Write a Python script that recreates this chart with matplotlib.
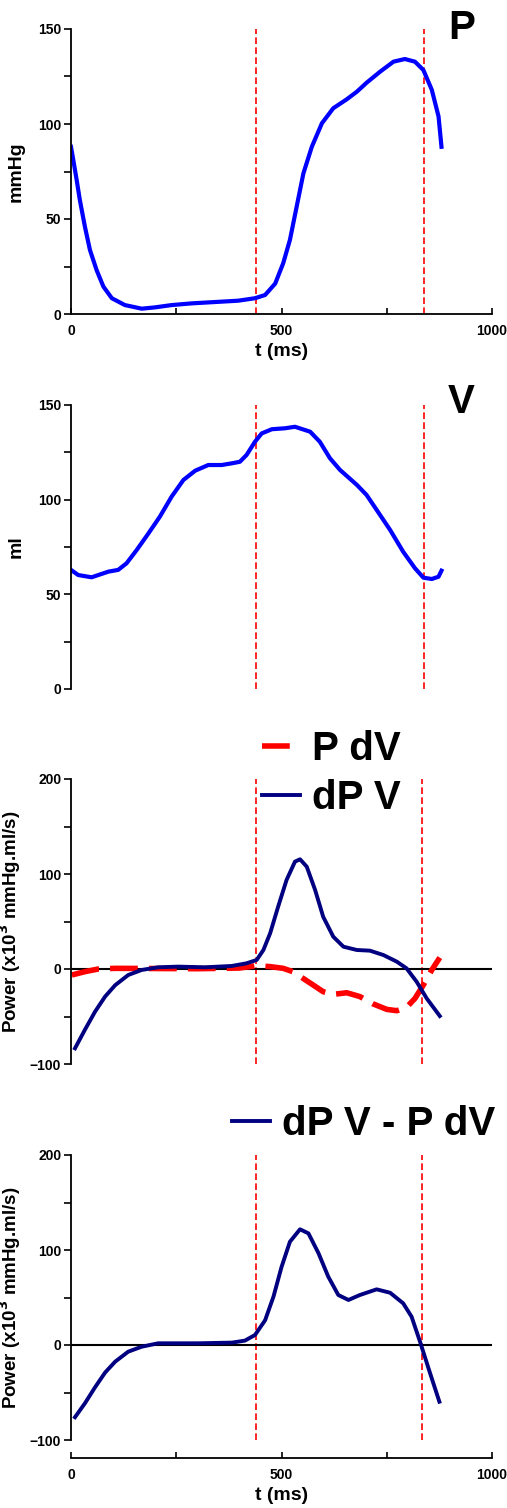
"""Pressure, volume and power traces over one cardiac cycle."""

import matplotlib

matplotlib.use("Agg")
from matplotlib import pyplot as plt
from matplotlib.ticker import MultipleLocator

plt.rcParams["font.family"] = ["Liberation Sans", "DejaVu Sans"]
plt.rcParams["font.weight"] = "bold"

# pressure (mmHg)
t_p = [0, 5.5, 13.5, 21, 33, 45, 61, 77, 97, 128, 168, 200, 239, 287, 342,
       397, 437, 461, 485, 504, 520, 536, 552, 572, 596, 623, 655, 679, 702,
       734, 766, 793, 817, 837, 857, 873, 880]
p = [88, 81, 70.5, 60, 46, 33.7, 23, 14.4, 8.3, 4.7, 2.8, 3.5, 4.7, 5.6, 6.3,
     7, 8.3, 10, 16, 26.7, 39, 56.5, 74, 88, 100.4, 108.3, 113, 117, 121.7,
     127.5, 132.8, 134.2, 132.8, 128.4, 118, 104, 88]

# volume (ml)
t_v = [0, 17, 49, 89, 112, 132, 156, 184, 211, 239, 267, 295, 326, 358, 382,
       401, 417, 437, 453, 477, 508, 532, 568, 591, 615, 639, 679, 702, 726,
       758, 789, 817, 837, 857, 873, 880]
v = [62.9, 60.2, 59, 62, 62.9, 66.4, 73.4, 82.2, 91, 101.6, 110.4, 115.3,
     118.3, 118.3, 119.2, 120, 123.6, 130.6, 135, 137.2, 137.7, 138.5, 135.9,
     130.6, 121.9, 115.7, 107.8, 102.5, 94.6, 84, 72.5, 63.8, 58.8, 58.1,
     59.3, 62.5]

# dP V (x10^3 mmHg.ml/s)
t_dpv = [9.5, 33, 57, 81, 105, 136, 168, 207, 255, 318, 382, 417, 441, 457,
         473, 492, 512, 532, 544, 560, 580, 599, 623, 647, 679, 710, 742, 774,
         797, 821, 845, 876]
dpv = [-83.5, -64, -45, -29, -17, -6.3, -1, 1.8, 2.5, 1.8, 3.2, 6, 9.5, 20,
       37.6, 65.6, 93.7, 113, 115.5, 107.7, 83, 55, 34, 23.5, 20, 19.3, 14.7,
       7.7, 0.7, -13.4, -31, -49.5]

# P dV (x10^3 mmHg.ml/s)
t_pdv = [2, 33, 65, 105, 200, 300, 400, 441, 473, 504, 527, 551, 575, 599,
         623, 655, 686, 718, 750, 774, 797, 817, 837, 857, 876]
pdv = [-6.3, -2.8, 0, 0.7, 0.5, 0.3, 1, 3.5, 2.5, 0.7, -2.8, -9.8, -16.8,
       -23.9, -26.7, -25, -29, -36.8, -42.5, -43.9, -40.4, -31, -16.8, -1, 12]

# dP V - P dV
t_diff = [9.5, 33, 57, 81, 105, 136, 168, 207, 302, 382, 413, 437, 461, 481,
          500, 520, 544, 564, 588, 611, 635, 659, 686, 726, 758, 789, 809,
          829, 853, 875]
diff = [-76, -61.4, -44.6, -29, -17.5, -7, -1.8, 1.8, 1.8, 2.5, 4.6, 10.5, 26,
        51, 82, 108.7, 121.8, 117.5, 96.5, 72, 52.6, 47.4, 52.6, 58.6, 55,
        43.9, 29.8, 3.5, -29.8, -59.7]

# valve event times (ms)
events_pv = [440, 838]
events_power = [440, 834]

W, H = 507, 1508
fig = plt.figure(figsize=(W / 100, H / 100), dpi=100)


def make_axes(top, bottom):
    left, right = 71, 492
    return fig.add_axes(
        [left / W, 1 - bottom / H, (right - left) / W, (bottom - top) / H]
    )


def style(ax, ylim, major, minor, show_x):
    ax.set_xlim(0, 1000)
    ax.set_ylim(*ylim)
    for side in ("top", "right"):
        ax.spines[side].set_visible(False)
    ax.spines["left"].set_linewidth(1.3)
    ax.spines["bottom"].set_linewidth(1.3)
    ax.yaxis.set_major_locator(MultipleLocator(major))
    ax.yaxis.set_minor_locator(MultipleLocator(minor))
    ax.tick_params(axis="y", which="both", direction="out", length=5,
                   width=1.2, labelsize=10, pad=2)
    if show_x:
        ax.xaxis.set_major_locator(MultipleLocator(500))
        ax.xaxis.set_minor_locator(MultipleLocator(250))
        ax.tick_params(axis="x", which="both", direction="in", length=4,
                       width=1.2, labelsize=10, pad=7)
    else:
        ax.spines["bottom"].set_visible(False)
        ax.tick_params(axis="x", which="both", bottom=False, labelbottom=False)
    for lab in ax.get_xticklabels() + ax.get_yticklabels():
        lab.set_fontweight("bold")


def events(ax, times):
    for t in times:
        ax.axvline(t, color="red", lw=1.2, ls=(0, (4, 2)), zorder=1)


# --- P ---
ax1 = make_axes(29, 314)
style(ax1, (0, 150), 50, 25, True)
events(ax1, events_pv)
ax1.plot(t_p, p, color="#0000ff", lw=3, solid_joinstyle="round")
ax1.set_ylabel("mmHg", fontsize=14, fontweight="bold")
ax1.yaxis.set_label_coords(-0.11, 0.5)
ax1.set_xlabel("t (ms)", fontsize=14, fontweight="bold")
ax1.xaxis.set_label_coords(0.5, -0.10)
fig.text(448 / W, 1 - 39 / H, "P", fontsize=29, fontweight="bold",
         ha="left", va="baseline")

# --- V ---
ax2 = make_axes(405, 689)
style(ax2, (0, 150), 50, 25, False)
events(ax2, events_pv)
ax2.plot(t_v, v, color="#0000ff", lw=3, solid_joinstyle="round")
ax2.set_ylabel("ml", fontsize=14, fontweight="bold")
ax2.yaxis.set_label_coords(-0.11, 0.5)
fig.text(448 / W, 1 - 413 / H, "V", fontsize=29, fontweight="bold",
         ha="left", va="baseline")

power_label = r"Power (x10$^{\mathbf{3}}$ mmHg.ml/s)"

# --- P dV and dP V ---
ax3 = make_axes(779, 1064)
style(ax3, (-100, 200), 100, 50, False)
events(ax3, events_power)
ax3.axhline(0, color="black", lw=1.5, zorder=1)
ax3.plot(t_pdv, pdv, color="#ff0000", lw=4, ls=(0, (5, 2)), label="P dV")
ax3.plot(t_dpv, dpv, color="#000080", lw=2.8, solid_joinstyle="round",
         label="dP V")
ax3.set_ylabel(power_label, fontsize=13.5, fontweight="bold")
ax3.yaxis.set_label_coords(-0.113, 0.5)
ax3.legend(loc="upper left", bbox_to_anchor=(262 / W, 1 - 730 / H),
           bbox_transform=fig.transFigure, frameon=False, borderpad=0,
           borderaxespad=0, handlelength=0.95, handletextpad=0.3,
           labelspacing=0.28, prop={"size": 29, "weight": "bold"})

# --- dP V - P dV ---
ax4 = make_axes(1155, 1440)
style(ax4, (-100, 200), 100, 50, True)
ax4.spines["bottom"].set_position(("outward", 13))
events(ax4, events_power)
ax4.axhline(0, color="black", lw=1.5, zorder=1)
ax4.plot(t_diff, diff, color="#000080", lw=2.8, solid_joinstyle="round",
         label="dP V - P dV")
ax4.set_ylabel(power_label, fontsize=13.5, fontweight="bold")
ax4.yaxis.set_label_coords(-0.113, 0.5)
ax4.set_xlabel("t (ms)", fontsize=14, fontweight="bold")
ax4.xaxis.set_label_coords(0.5, -0.165)
ax4.legend(loc="upper left", bbox_to_anchor=(232 / W, 1 - 1105 / H),
           bbox_transform=fig.transFigure, frameon=False, borderpad=0,
           borderaxespad=0, handlelength=0.95, handletextpad=0.3,
           prop={"size": 29, "weight": "bold"})

fig.savefig("out.png", dpi=100)
